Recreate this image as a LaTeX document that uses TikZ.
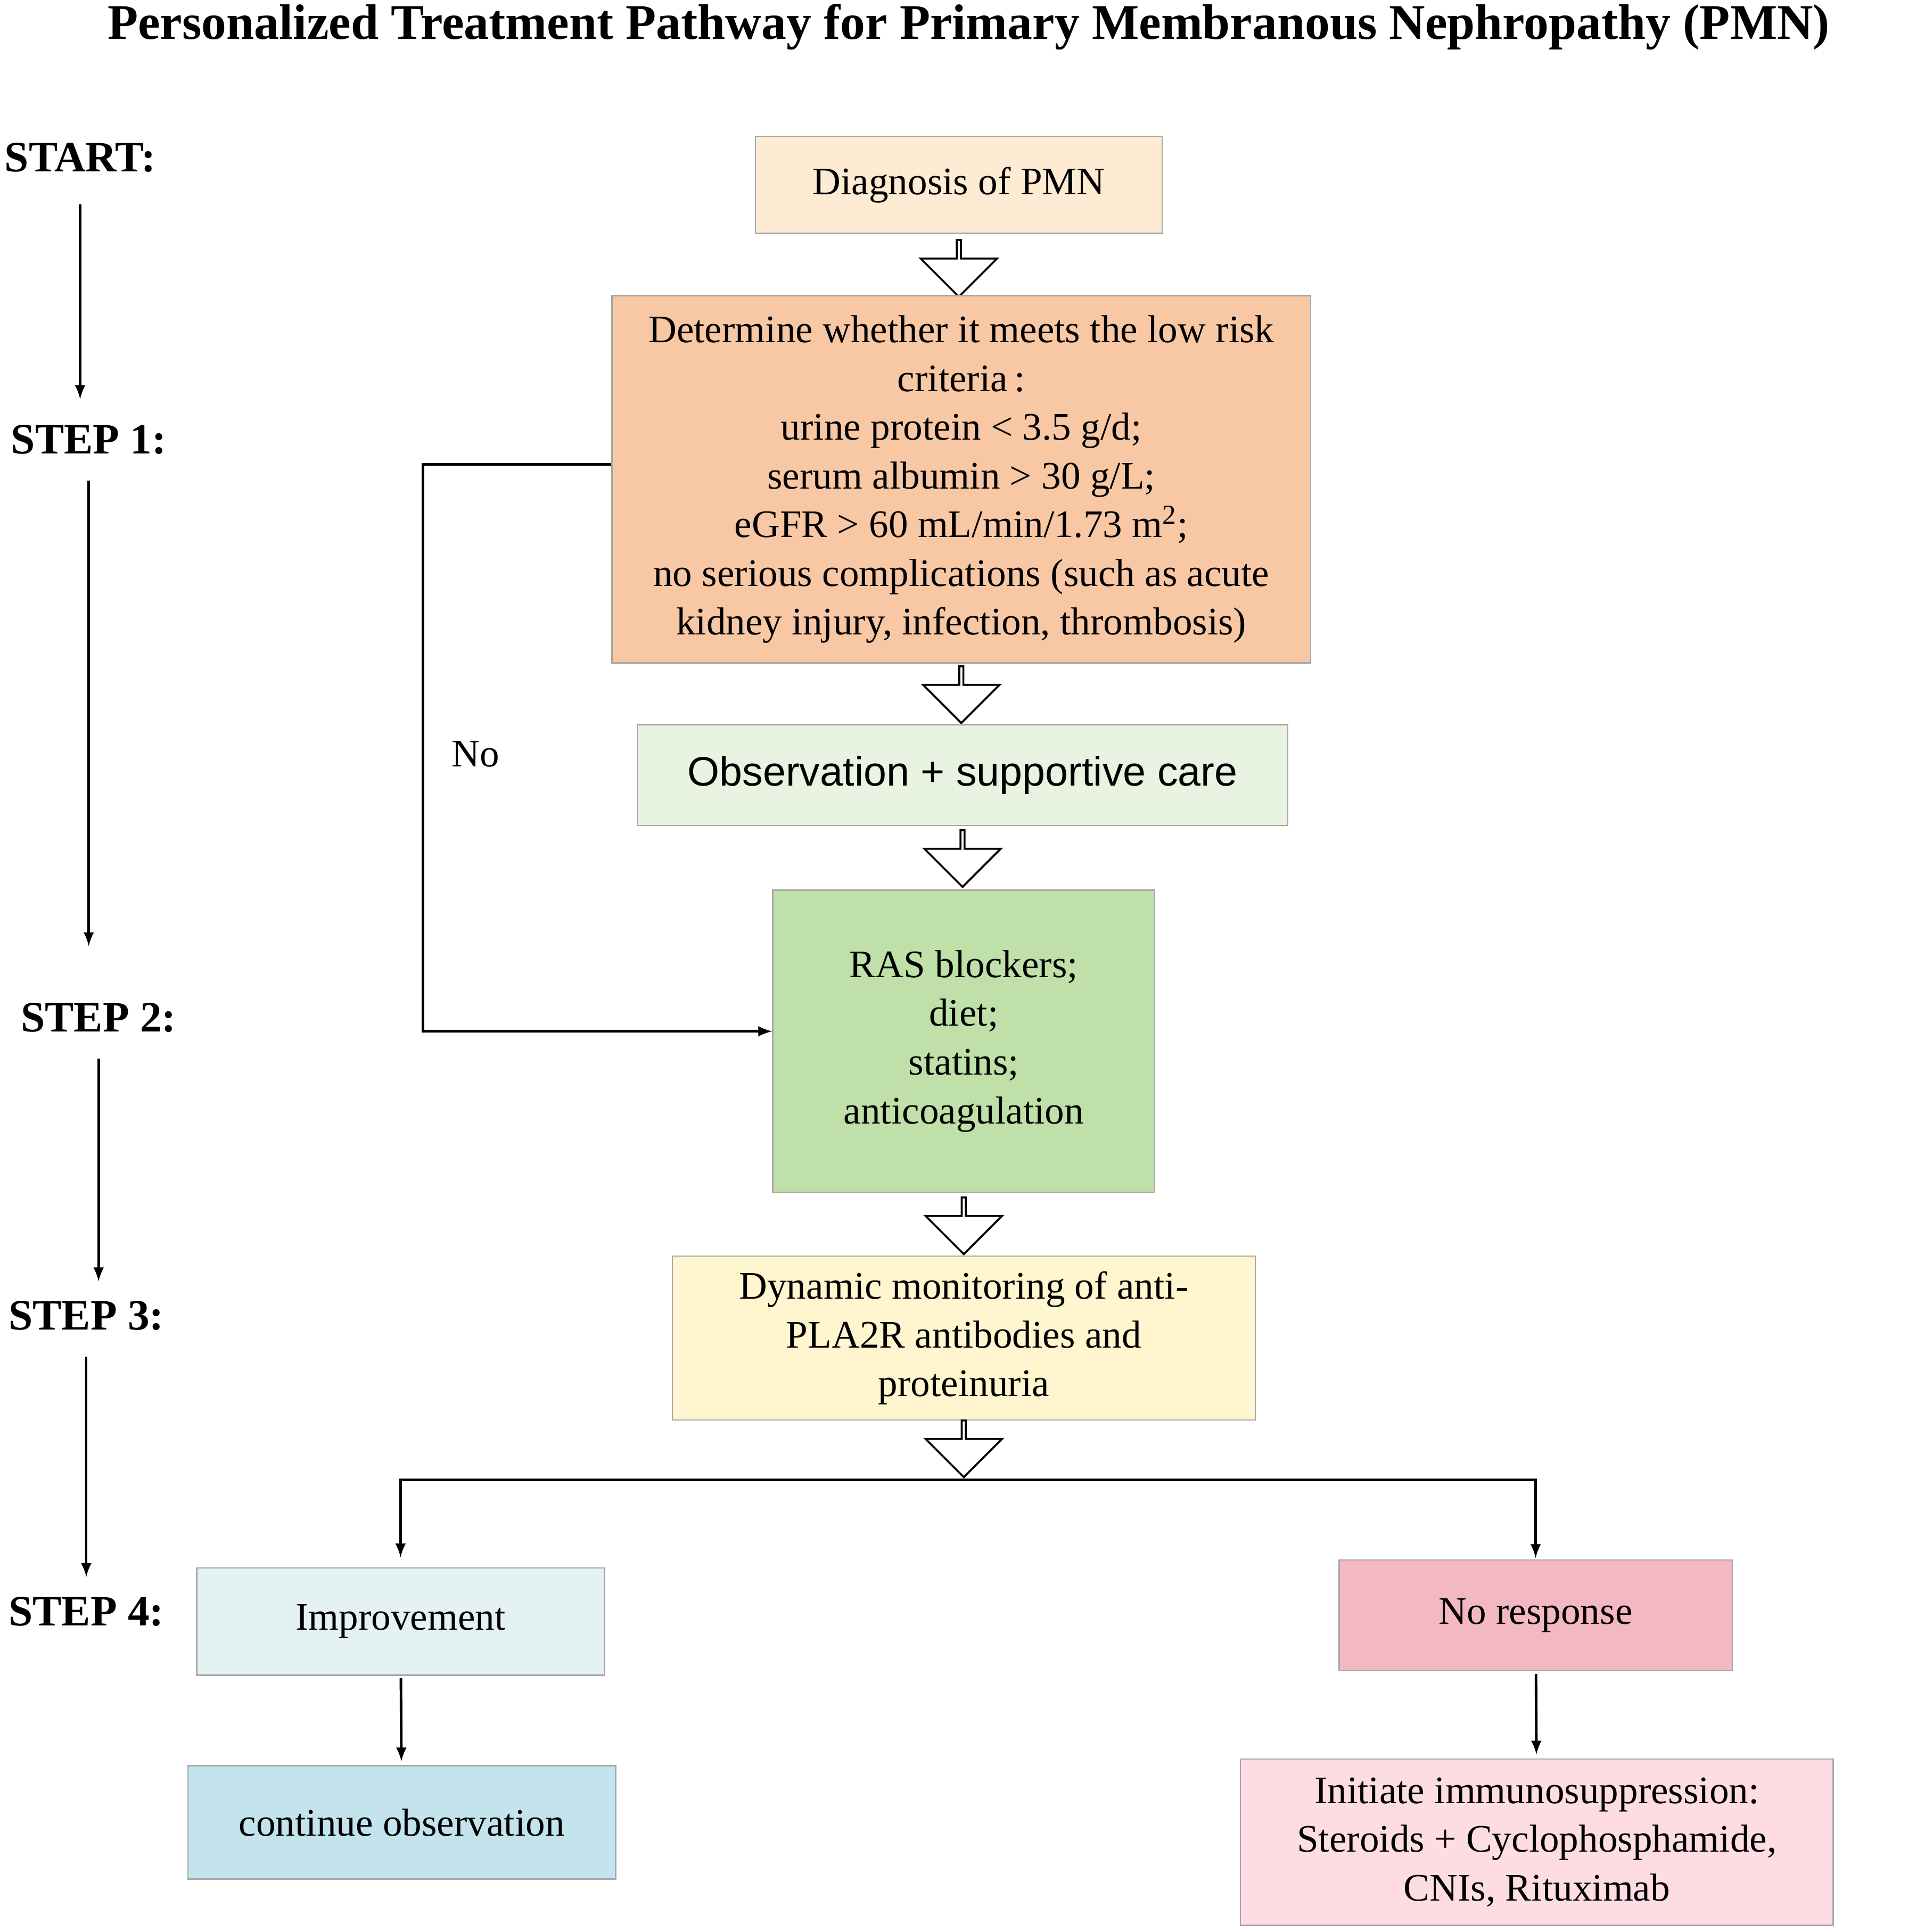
\documentclass[tikz,border=0pt]{standalone}
\usepackage{fontspec}
\setmainfont{Liberation Serif}
\newfontfamily\sansfam{Liberation Sans}
\usetikzlibrary{shapes.arrows}
\definecolor{cDiag}{HTML}{FDEBD3}
\definecolor{cCrit}{HTML}{F8C8A5}
\definecolor{cObs}{HTML}{E8F3E2}
\definecolor{cRas}{HTML}{BFE0A8}
\definecolor{cDyn}{HTML}{FFF6CF}
\definecolor{cImp}{HTML}{E5F2F4}
\definecolor{cCont}{HTML}{C3E4EC}
\definecolor{cNoRes}{HTML}{F4B8C2}
\definecolor{cInit}{HTML}{FDDDE3}
\begin{document}
\begin{tikzpicture}[x=0.02cm,y=-0.02cm,font=\fontsize{18}{22.5}\selectfont]
	\tikzset{box/.style={draw=black!35,line width=0.6pt,align=center,inner sep=0pt},
		hollow/.style={single arrow,draw,fill=white,line width=0.9pt,shape border rotate=270,
			minimum height=0.92cm,minimum width=1.24cm,single arrow head extend=0.28cm,inner sep=0pt},
		steplabel/.style={font=\fontsize{20}{24}\selectfont\bfseries},
		conn/.style={-latex,line width=1.2pt}}
	\useasboundingbox (0,0) rectangle (1548,1568);
		\node[font=\fontsize{23}{28}\selectfont\bfseries] (title) at (786,22) {Personalized Treatment Pathway for Primary Membranous Nephropathy (PMN)};
		% left column
		\node[steplabel] (start) at (65,128) {START:};
		\node[steplabel] (s1) at (72,357) {STEP 1:};
		\node[steplabel] (s2) at (80,826) {STEP 2:};
		\node[steplabel] (s3) at (70,1068) {STEP 3:};
		\node[steplabel] (s4) at (70,1308) {STEP 4:};
			\draw[conn,shorten <=0.4cm,shorten >=0.3cm] (start) -- (start |- s1.north);
			\draw[conn,shorten <=0.3cm,shorten >=0.8cm] (s1) -- (s1 |- s2.north);
			\draw[conn,shorten <=0.3cm,shorten >=0.2cm] (s2) -- (s2 |- s3.north);
			\draw[conn,shorten <=0.3cm,shorten >=0.2cm] (s3) -- (s3 |- s4.north);
		% main column
		\node[box,fill=cDiag,minimum width=6.6cm,minimum height=1.58cm] (diag) at (778,150) {Diagnosis of PMN};
		\node[hollow] (ha1) at (778,217) {};
		\node[box,fill=cCrit,minimum width=11.34cm,minimum height=5.96cm] (crit) at (780,389) {Determine whether it meets the low risk\\ criteria\,:\\ urine protein < 3.5 g/d;\\ serum albumin > 30 g/L;\\ eGFR > 60 mL/min/1.73 m\textsuperscript{2};\\ no serious complications (such as acute\\ kidney injury, infection, thrombosis)};
		\node[hollow] (ha2) at (780,563) {};
		\node[box,fill=cObs,minimum width=10.56cm,minimum height=1.64cm,font=\sansfam\fontsize{19}{23}\selectfont] (obs) at (781,629) {Observation + supportive care};
		\node[hollow] (ha3) at (781,696) {};
		\node[box,fill=cRas,minimum width=6.2cm,minimum height=4.9cm] (ras) at (782,845) {RAS blockers;\\ diet;\\ statins;\\ anticoagulation};
		\node[hollow] (ha4) at (782,994) {};
		\node[box,fill=cDyn,minimum width=9.46cm,minimum height=2.66cm] (dyn) at (782,1086) {Dynamic monitoring of anti-\\ PLA2R antibodies and\\ proteinuria};
		\node[hollow] (ha5) at (782,1175) {};
		\coordinate (split) at (782,1201);
			\draw[conn] ([yshift=0.24cm]crit.west) -- ++(-153,0) |- ([yshift=0.16cm]ras.west);
			\node (no) at (386,612) {No};
		% outcomes
		\node[box,fill=cImp,minimum width=6.62cm,minimum height=1.74cm] (impr) at (325,1316) {Improvement};
		\node[box,fill=cNoRes,minimum width=6.38cm,minimum height=1.8cm] (nores) at (1246,1311) {No response};
		\node[box,fill=cCont,minimum width=6.94cm,minimum height=1.84cm] (cont) at (326,1479) {continue observation};
		\node[box,fill=cInit,minimum width=9.62cm,minimum height=2.7cm] (init) at (1247,1495) {Initiate immunosuppression:\\ Steroids + Cyclophosphamide,\\ CNIs, Rituximab};
			\draw[conn,shorten >=0.16cm] (split) -| (impr.north);
			\draw[conn,shorten >=0.02cm] (split) -| (nores.north);
			\draw[conn,shorten <=0.04cm,shorten >=0.06cm] (impr) -- (cont);
			\draw[conn,shorten <=0.04cm,shorten >=0.06cm] (nores) -- (init);
\end{tikzpicture}
\end{document}
